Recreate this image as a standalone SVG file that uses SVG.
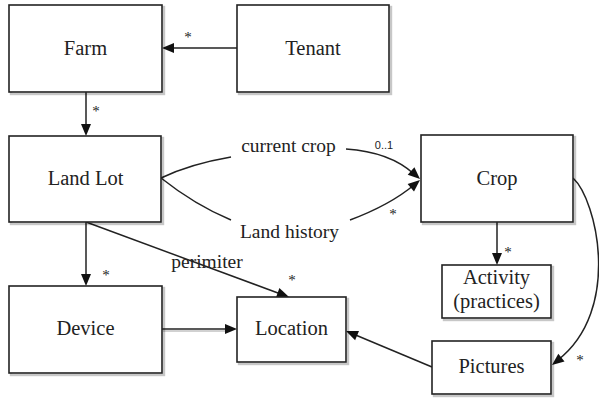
<svg xmlns="http://www.w3.org/2000/svg" width="599" height="398" viewBox="0 0 599 398">
  <style>
    .box { fill: #fff; stroke: #222; stroke-width: 1.6; }
    .sh1 { fill: none; stroke: #000; stroke-opacity: 0.22; stroke-width: 2.4; }
    .edge { fill: none; stroke: #222; stroke-width: 1.5; }
    .head { fill: #111; }
  </style>

  <!-- connectors -->
  <g id="connectors">
    <path class="edge" d="M237,48 L168,48"/>
    <polygon class="head" points="162,48 174,43 174,53"/>
    <path class="edge" d="M86,92 L86,130"/>
    <polygon class="head" points="86,136 81,124 91,124"/>
    <!-- current crop -->
    <path class="edge" d="M161,178 Q190,164 231,157"/>
    <path class="edge" d="M346,149 Q390,152 414,174"/>
    <polygon class="head" points="420,179 407.7,174.7 414.4,167.3"/>
    <!-- land history -->
    <path class="edge" d="M161,178 Q195,205 231,220"/>
    <path class="edge" d="M350,220 Q390,205 414,185"/>
    <polygon class="head" points="420,180 414,191.5 407.6,183.9"/>
    <path class="edge" d="M497,222 L497,258"/>
    <polygon class="head" points="497,265 492,253 502,253"/>
    <path class="edge" d="M86,222 L86,280"/>
    <polygon class="head" points="86,286 81,274 91,274"/>
    <path class="edge" d="M86,222 L282,294.5"/>
    <polygon class="head" points="289,297 276,297.5 279.4,288.1"/>
    <path d="M163,331 L228,331" stroke="#000" stroke-opacity="0.18" stroke-width="2"/>
    <path class="edge" d="M162,329 L230,329"/>
    <polygon class="head" points="237,329 225,324 225,334"/>
    <path class="edge" d="M432,367 L352,333.5"/>
    <polygon class="head" points="346,331 359,331 355.1,340.2"/>
    <path class="edge" d="M573,178 C597,200 622,310 558,360"/>
    <polygon class="head" points="552,365 558.3,353.7 564.5,361.5"/>

    <g font-family="Liberation Serif, serif" font-size="15" fill="#222" text-anchor="middle">
      <text x="188" y="42">*</text>
      <text x="96" y="116">*</text>
      <text x="393" y="219">*</text>
      <text x="508" y="257">*</text>
      <text x="106" y="280">*</text>
      <text x="292" y="285">*</text>
      <text x="580" y="365">*</text>
    </g>
    <text font-family="Liberation Sans, Arial, sans-serif" font-size="11" fill="#222" text-anchor="middle" x="384" y="149">0..1</text>
    <g font-family="Liberation Serif, serif" font-size="19.5" fill="#222" text-anchor="middle">
      <text x="288.5" y="152">current crop</text>
      <text x="289.5" y="238">Land history</text>
      <text x="207" y="268">perimiter</text>
    </g>
  </g>

  <g font-family="Liberation Serif, serif" font-size="20.5" fill="#222" text-anchor="middle">
    <g id="farm">
      <rect class="sh1" x="11" y="7" width="153" height="87"/>
      <rect class="box" x="9" y="5" width="153" height="87"/>
      <text x="85.5" y="55">Farm</text>
    </g>
    <g id="tenant">
      <rect class="sh1" x="239" y="7" width="152" height="87"/>
      <rect class="box" x="237" y="5" width="152" height="87"/>
      <text x="313" y="55">Tenant</text>
    </g>
    <g id="land-lot">
      <rect class="sh1" x="11" y="138" width="152" height="86"/>
      <rect class="box" x="9" y="136" width="152" height="86"/>
      <text x="85.5" y="185">Land Lot</text>
    </g>
    <g id="crop">
      <rect class="sh1" x="423" y="137" width="152" height="87"/>
      <rect class="box" x="421" y="135" width="152" height="87"/>
      <text x="497" y="185">Crop</text>
    </g>
    <g id="activity">
      <rect class="sh1" x="444" y="267" width="109" height="53"/>
      <rect class="box" x="442" y="265" width="109" height="53"/>
      <text x="496.5" y="284">Activity</text>
      <text x="496.5" y="308">(practices)</text>
    </g>
    <g id="device">
      <rect class="sh1" x="11" y="288" width="153" height="87"/>
      <rect class="box" x="9" y="286" width="153" height="87"/>
      <text x="85.5" y="335">Device</text>
    </g>
    <g id="location">
      <rect class="sh1" x="239" y="299" width="109" height="65"/>
      <rect class="box" x="237" y="297" width="109" height="65"/>
      <text x="291.5" y="335">Location</text>
    </g>
    <g id="pictures">
      <rect class="sh1" x="434" y="343" width="119" height="53"/>
      <rect class="box" x="432" y="341" width="119" height="53"/>
      <text x="491.5" y="373">Pictures</text>
    </g>
  </g>
</svg>
